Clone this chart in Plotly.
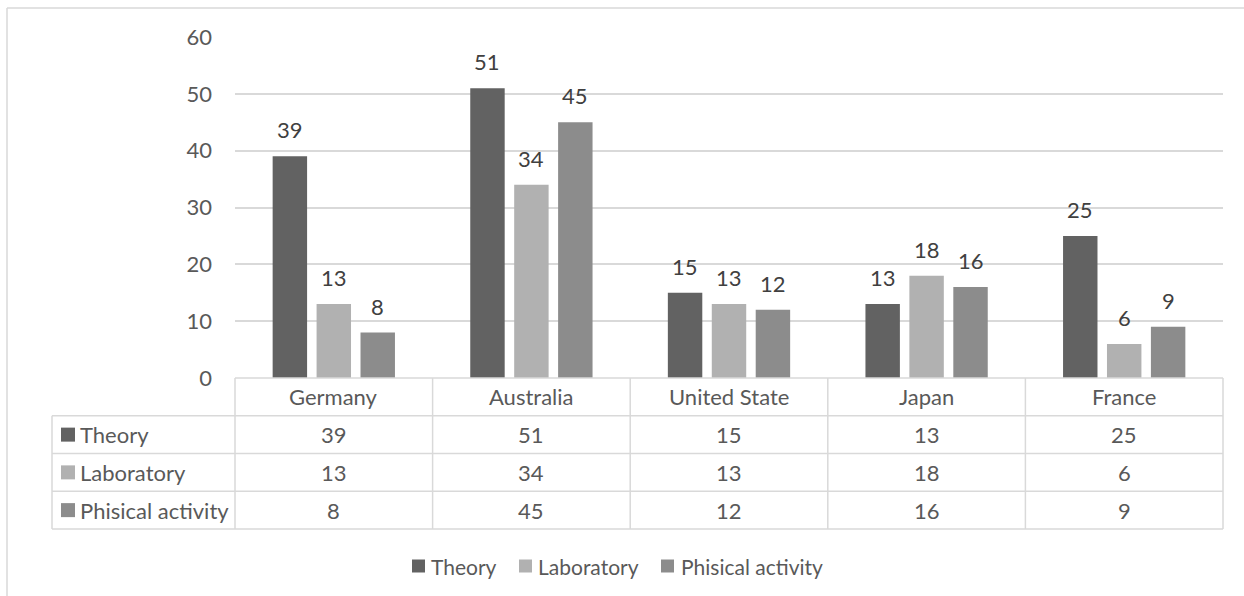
import plotly.graph_objects as go

# ---- data ----
countries = ["Germany", "Australia", "United State", "Japan", "France"]
series_names = ["Theory", "Laboratory", "Phisical activity"]
theory = [39, 51, 15, 13, 25]
laboratory = [13, 34, 13, 18, 6]
physical_activity = [8, 45, 12, 16, 9]
y_ticks = [0, 10, 20, 30, 40, 50, 60]

series_values = [theory, laboratory, physical_activity]
colors = ["#626262", "#B1B1B1", "#8C8C8C"]

FONT = "Lato"
FS = 22
LEG_FS = 21
TXT = "#595959"
LBL = "#404040"
GRID = "#D9D9D9"

# ---- page geometry ----
W, H = 1244, 596
L, R, T, B = 235, 21, 37, 218
PW, PH = W - L - R, H - T - B
BASE = H - B  # pixel row of the value axis zero


def xp(px):
    return (px - L) / PW


def yp(py):
    return (BASE - py) / PH


BARGAP = 0.333
BARGROUPGAP = 0.216
cat_px = PW / len(countries)
slot_px = cat_px * (1 - BARGAP) / len(series_names)

fig = go.Figure()
for name, vals, col in zip(series_names, series_values, colors):
    fig.add_trace(go.Bar(
        name=name, x=countries, y=vals,
        marker=dict(color=col, line=dict(width=0)),
        showlegend=False, hoverinfo="x+y+name",
    ))

annotations = []
shapes = []

# value labels above bars
for i, (vals, name) in enumerate(zip(series_values, series_names)):
    shift = (i - 1) * slot_px
    for c, v in zip(countries, vals):
        annotations.append(dict(
            x=c, y=v, xref="x", yref="y", text=str(v), showarrow=False,
            xshift=shift, yshift=11, yanchor="bottom",
            font=dict(family=FONT, size=FS, color=LBL),
        ))

# ---- data table under the axis ----
rows = [BASE + k * 37.75 for k in range(5)]
line = dict(color=GRID, width=1.5)
# header row top border (only under the categories)
shapes.append(dict(type="line", xref="paper", yref="paper",
                   x0=0, x1=1, y0=yp(rows[0]), y1=yp(rows[0]), line=line))
# horizontal rules across the full table
for r in rows[1:]:
    shapes.append(dict(type="line", xref="paper", yref="paper",
                       x0=xp(52), x1=1, y0=yp(r), y1=yp(r), line=line))
# outer left edge of label column
shapes.append(dict(type="line", xref="paper", yref="paper",
                   x0=xp(52), x1=xp(52), y0=yp(rows[1]), y1=yp(rows[4]), line=line))
# column dividers
for k in range(len(countries) + 1):
    x = k / len(countries)
    shapes.append(dict(type="line", xref="paper", yref="paper",
                       x0=x, x1=x, y0=yp(rows[0]), y1=yp(rows[4]), line=line))

# category header cells
for c in countries:
    annotations.append(dict(
        x=c, xref="x", y=yp((rows[0] + rows[1]) / 2), yref="paper",
        text=c, showarrow=False, yanchor="middle",
        font=dict(family=FONT, size=FS, color=TXT),
    ))

# series rows: key swatch, name, values
for i, (name, vals, col) in enumerate(zip(series_names, series_values, colors)):
    mid = (rows[i + 1] + rows[i + 2]) / 2
    shapes.append(dict(type="rect", xref="paper", yref="paper",
                       x0=xp(61), x1=xp(75), y0=yp(mid - 7), y1=yp(mid + 7),
                       fillcolor=col, line=dict(width=0)))
    annotations.append(dict(
        x=xp(78), xref="paper", y=yp(mid), yref="paper", text=name,
        showarrow=False, xanchor="left", yanchor="middle",
        font=dict(family=FONT, size=FS, color=TXT),
    ))
    for c, v in zip(countries, vals):
        annotations.append(dict(
            x=c, xref="x", y=yp(mid), yref="paper", text=str(v),
            showarrow=False, yanchor="middle",
            font=dict(family=FONT, size=FS, color=TXT),
        ))

# ---- legend row ----
legend_pos = [(412, 429), (519, 536), (661, 679)]
leg_mid = 566
for (sx, tx), name, col in zip(legend_pos, series_names, colors):
    shapes.append(dict(type="rect", xref="paper", yref="paper",
                       x0=xp(sx), x1=xp(sx + 13), y0=yp(leg_mid - 6.5), y1=yp(leg_mid + 6.5),
                       fillcolor=col, line=dict(width=0)))
    annotations.append(dict(
        x=xp(tx), xref="paper", y=yp(leg_mid), yref="paper", text=name,
        showarrow=False, xanchor="left", yanchor="middle",
        font=dict(family=FONT, size=LEG_FS, color=TXT),
    ))

# chart area frame (top and left edges visible)
shapes.append(dict(type="line", xref="paper", yref="paper",
                   x0=xp(7), x1=xp(W + 5), y0=yp(8), y1=yp(8), line=line))
shapes.append(dict(type="line", xref="paper", yref="paper",
                   x0=xp(7), x1=xp(7), y0=yp(8), y1=yp(H + 5), line=line))

fig.update_layout(
    width=W, height=H,
    margin=dict(l=L, r=R, t=T, b=B, pad=0),
    paper_bgcolor="white", plot_bgcolor="white",
    barmode="group", bargap=BARGAP, bargroupgap=BARGROUPGAP,
    showlegend=False,
    font=dict(family=FONT, size=FS, color=TXT),
    xaxis=dict(showticklabels=False, showgrid=False, zeroline=False,
               showline=False, ticks=""),
    yaxis=dict(range=[0, 60], tickvals=y_ticks, showgrid=True, gridcolor=GRID,
               gridwidth=1.5, zeroline=False, showline=False, ticks="",
               ticklabelstandoff=22,
               tickfont=dict(family=FONT, size=FS, color=TXT)),
    annotations=annotations, shapes=shapes,
)

fig.write_html("out.html")
